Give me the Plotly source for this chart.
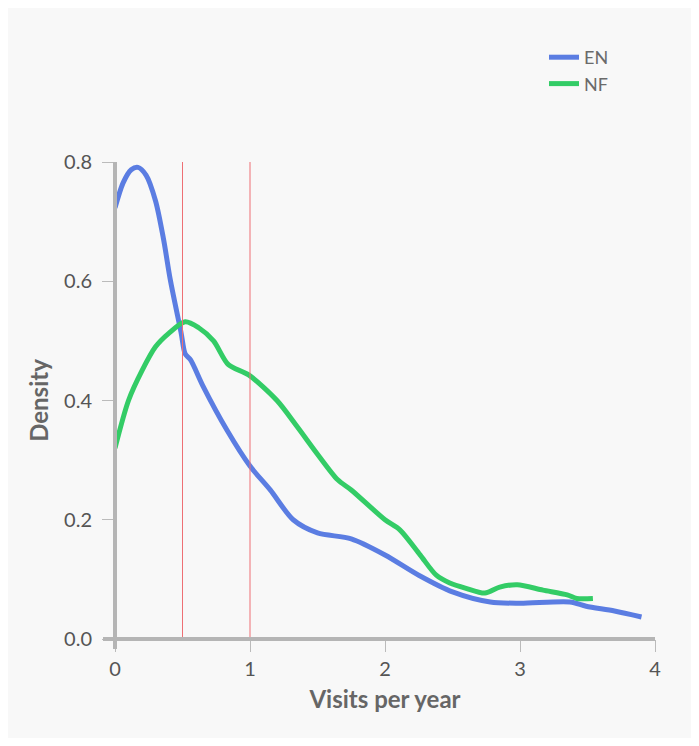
import plotly.graph_objects as go

# EN density curve
en_x = [0.0, 0.06, 0.12, 0.17, 0.23, 0.3, 0.36, 0.41, 0.49, 0.52, 0.56, 0.65, 0.83, 1.0, 1.15, 1.32, 1.5, 1.75, 2.0, 2.25, 2.5, 2.78, 3.0, 3.37, 3.49, 3.7, 3.9]
en_y = [0.723, 0.765, 0.787, 0.791, 0.778, 0.735, 0.67, 0.602, 0.513, 0.478, 0.468, 0.425, 0.35, 0.29, 0.25, 0.2, 0.178, 0.168, 0.141, 0.107, 0.079, 0.062, 0.06, 0.062, 0.055, 0.047, 0.037]

# NF density curve
nf_x = [0.0, 0.1, 0.2, 0.3, 0.4, 0.52, 0.62, 0.73, 0.84, 0.99, 1.2, 1.35, 1.5, 1.65, 1.75, 2.0, 2.11, 2.26, 2.38, 2.48, 2.6, 2.74, 2.85, 2.98, 3.17, 3.35, 3.42, 3.54]
nf_y = [0.32, 0.40, 0.45, 0.49, 0.513, 0.532, 0.522, 0.50, 0.46, 0.443, 0.40, 0.356, 0.31, 0.267, 0.25, 0.2, 0.183, 0.141, 0.107, 0.094, 0.085, 0.077, 0.087, 0.091, 0.082, 0.074, 0.068, 0.068]

series_names = ["EN", "NF"]
series_colors = ["#5b7de2", "#33cc66"]

ref_lines = [0.5, 1.0]
x_ticks = [0, 1, 2, 3, 4]
y_ticks = [0.0, 0.2, 0.4, 0.6, 0.8]
y_tick_labels = ["0.0", "0.2", "0.4", "0.6", "0.8"]

W, H = 683, 730
ML, MR, MT, MB = 107, 36, 154, 99
PW = W - ML - MR
PH = H - MT - MB

fig = go.Figure()
for xs, ys, name, col in [(en_x, en_y, series_names[0], series_colors[0]),
                          (nf_x, nf_y, series_names[1], series_colors[1])]:
    fig.add_trace(go.Scatter(x=xs, y=ys, mode="lines", name=name,
                             line=dict(color=col, width=5, shape="spline", smoothing=0.8),
                             cliponaxis=False))

shapes = []
for v in ref_lines:
    shapes.append(dict(type="line", xref="x", yref="y", x0=v, x1=v, y0=0, y1=0.8,
                       line=dict(color="#ee6f74", width=1), layer="above"))
# axis lines (thick, extending past origin)
shapes.append(dict(type="line", xref="paper", yref="paper",
                   x0=-12 / PW, x1=1, y0=0, y1=0,
                   line=dict(color="#b5b5b5", width=4), layer="above"))
shapes.append(dict(type="line", xref="paper", yref="paper",
                   x0=0, x1=0, y0=-10 / PH, y1=1,
                   line=dict(color="#b5b5b5", width=4), layer="above"))

font_family = "Lato, 'Open Sans', sans-serif"
fig.update_layout(
    width=W, height=H,
    margin=dict(l=ML, r=MR, t=MT, b=MB),
    paper_bgcolor="#f8f8f8", plot_bgcolor="#f8f8f8",
    font=dict(family=font_family, color="#555555", size=20),
    shapes=shapes,
    showlegend=True,
    legend=dict(x=(536 - ML) / PW, y=(H - MB - 31) / PH, xanchor="left", yanchor="top",
                bgcolor="rgba(0,0,0,0)", font=dict(size=18, color="#6a6a6a"),
                tracegroupgap=0),
    xaxis=dict(range=[0, 4], tickvals=x_ticks, ticks="outside", ticklen=12,
               tickcolor="#bbbbbb", tickwidth=1, showgrid=False, zeroline=False,
               showline=False, tickfont=dict(size=20, color="#555555"),
               title=dict(text="<b>Visits per year</b>", font=dict(size=24, color="#666666"), standoff=12)),
    yaxis=dict(range=[0, 0.8], tickvals=y_ticks, ticktext=y_tick_labels, ticks="outside",
               ticklen=12, tickcolor="#bbbbbb", tickwidth=1, showgrid=False, zeroline=False,
               showline=False, tickfont=dict(size=20, color="#555555"), ticklabelstandoff=6,
               title=dict(text="<b>Density</b>", font=dict(size=24, color="#666666"), standoff=8)),
)

fig.write_html("out.html")
